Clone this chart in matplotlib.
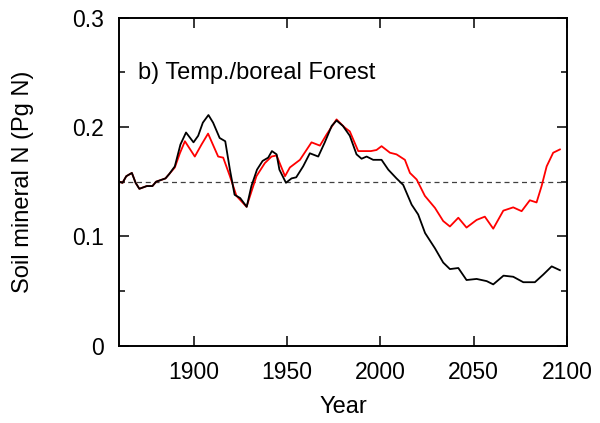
import numpy as np
import matplotlib
matplotlib.use("Agg")
import matplotlib.pyplot as plt
from matplotlib.ticker import MultipleLocator

plt.rcParams['font.family'] = ['Liberation Sans', 'DejaVu Sans']

# soil mineral N, first run (black)
years_black = [1860, 1862, 1864, 1867, 1869, 1871, 1875, 1878, 1880, 1885,
               1887, 1890, 1893, 1896, 1900, 1902.5, 1905, 1908, 1910.5, 1914,
               1917, 1919.5, 1922, 1925, 1928.5, 1931, 1934, 1937, 1940, 1942,
               1944.5, 1946, 1949.5, 1952.5, 1955, 1958.7, 1962.3, 1966.8, 1970.3, 1974,
               1976.6, 1980, 1983.7, 1987.3, 1990, 1992.7, 1996.2, 2000.7, 2004.3, 2008.7,
               2012.3, 2016.8, 2020.3, 2024, 2029.3, 2033.7, 2037.3, 2041.8, 2046.2, 2051.6,
               2057, 2060.5, 2066, 2071.2, 2076.6, 2082.8, 2087.3, 2091.8, 2096.2]
soil_n_black = [0.150, 0.149, 0.155, 0.158, 0.149, 0.1435, 0.146, 0.146, 0.150, 0.153,
                0.157, 0.164, 0.184, 0.195, 0.186, 0.192, 0.204, 0.211, 0.204, 0.190,
                0.187, 0.161, 0.138, 0.135, 0.127, 0.146, 0.161, 0.169, 0.172, 0.178,
                0.175, 0.161, 0.149, 0.153, 0.154, 0.164, 0.176, 0.173, 0.186, 0.201,
                0.206, 0.201, 0.192, 0.175, 0.171, 0.173, 0.170, 0.170, 0.161, 0.153,
                0.147, 0.129, 0.120, 0.103, 0.089, 0.076, 0.070, 0.071, 0.060, 0.061,
                0.059, 0.056, 0.064, 0.063, 0.058, 0.058, 0.065, 0.0725, 0.069]

# soil mineral N, second run (red)
years_red = [1860, 1862, 1864, 1867, 1869, 1871, 1875, 1878, 1880, 1885,
             1887, 1890, 1892.7, 1895.4, 1900.7, 1904.3, 1907.8, 1913.2, 1915.9, 1919.5,
             1923, 1928.4, 1933.7, 1938.2, 1941.8, 1944.5, 1949, 1951.6, 1957, 1963.2,
             1967.7, 1971.2, 1976.6, 1981, 1983.7, 1988.2, 1991.8, 1995, 1998, 2000.7,
             2005.2, 2008.7, 2013.2, 2015.9, 2019.5, 2023.9, 2029.3, 2033.7, 2037.3, 2041.8,
             2046.2, 2051.6, 2056, 2060.5, 2065.9, 2071.2, 2075.7, 2080.1, 2083.7, 2086.4,
             2089.1, 2092.6, 2096.2]
soil_n_red = [0.150, 0.149, 0.155, 0.158, 0.149, 0.1435, 0.146, 0.146, 0.150, 0.153,
              0.157, 0.163, 0.176, 0.187, 0.173, 0.184, 0.194, 0.173, 0.172, 0.155,
              0.137, 0.127, 0.155, 0.167, 0.173, 0.174, 0.155, 0.163, 0.170, 0.186,
              0.183, 0.193, 0.207, 0.1995, 0.196, 0.178, 0.178, 0.178, 0.179, 0.1825,
              0.1765, 0.175, 0.170, 0.158, 0.152, 0.137, 0.126, 0.114, 0.109, 0.117,
              0.108, 0.115, 0.118, 0.107, 0.1235, 0.1265, 0.123, 0.133, 0.131, 0.146,
              0.164, 0.1765, 0.1795]

baseline = 0.15
y_ticks = [0, 0.1, 0.2, 0.3]
y_ticklabels = ['0', '0.1', '0.2', '0.3']

fig = plt.figure(figsize=(6.0, 4.23), dpi=100)
ax = fig.add_axes([0.198, 0.183, 0.747, 0.775])

ax.axhline(baseline, color='#404040', lw=0.9, ls=(0, (4, 3)))
ax.plot(years_red, soil_n_red, color='#ff0000', lw=1.3)
ax.plot(years_black, soil_n_black, color='#000000', lw=1.3)

ax.set_xlim(1860, 2100)
ax.set_ylim(0, 0.3)
ax.xaxis.set_major_locator(MultipleLocator(50))
ax.yaxis.set_minor_locator(MultipleLocator(0.05))
ax.set_yticks(y_ticks)
ax.set_yticklabels(y_ticklabels)

ax.tick_params(which='both', direction='in', top=True, right=True,
               labelsize=16.5, width=1.1)
ax.tick_params(which='major', length=7.5, pad=11)
ax.tick_params(which='minor', length=4)
for sp in ax.spines.values():
    sp.set_linewidth(1.4)

ax.set_xlabel('Year', fontsize=17, labelpad=9)
ax.set_ylabel('Soil mineral N (Pg N)', fontsize=17, labelpad=27)

ax.text(1870.3, 0.2438, 'b) Temp./boreal Forest', fontsize=17, va='baseline')

fig.savefig('out.png', dpi=100)
